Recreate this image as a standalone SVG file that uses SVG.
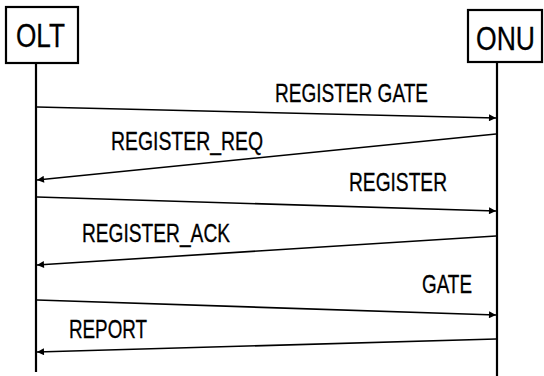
<svg xmlns="http://www.w3.org/2000/svg" width="544" height="376" viewBox="0 0 544 376">
<style>
.box{fill:#fff;stroke:#000;stroke-width:2.2}
.life{stroke:#000;stroke-width:2.2;fill:none}
.msg{stroke:#000;stroke-width:1.6;fill:none}
.lbl{font-family:"Liberation Sans",Arial,sans-serif;font-size:25px;fill:#000;stroke:#000;stroke-width:0.3}
.nm{font-family:"Liberation Sans",Arial,sans-serif;font-size:33px;fill:#000;stroke:#000;stroke-width:0.3}
</style>
<defs>
<marker id="ah" viewBox="0 0 10 10" refX="10" refY="5" markerWidth="9" markerHeight="7" markerUnits="userSpaceOnUse" orient="auto">
<path d="M0,0 L10,5 L0,10 Z" fill="#000"/>
</marker>
</defs>
<g id="olt">
<rect class="box" x="6" y="7" width="72" height="56"/>
<text class="nm" x="16" y="47" textLength="49" lengthAdjust="spacingAndGlyphs">OLT</text>
<line class="life" x1="36" y1="63" x2="36" y2="372"/>
</g>
<g id="onu">
<rect class="box" x="468" y="10" width="74" height="52"/>
<text class="nm" x="476" y="50" textLength="59" lengthAdjust="spacingAndGlyphs">ONU</text>
<line class="life" x1="497" y1="62" x2="497" y2="376"/>
</g>
<g id="connectors">
<line class="msg" x1="37" y1="107" x2="496" y2="118" marker-end="url(#ah)"/>
<line class="msg" x1="496" y1="134" x2="37" y2="180" marker-end="url(#ah)"/>
<line class="msg" x1="37" y1="197" x2="496" y2="211" marker-end="url(#ah)"/>
<line class="msg" x1="496" y1="236" x2="37" y2="265" marker-end="url(#ah)"/>
<line class="msg" x1="37" y1="300" x2="496" y2="315" marker-end="url(#ah)"/>
<line class="msg" x1="496" y1="339" x2="37" y2="352" marker-end="url(#ah)"/>
</g>
<g id="labels">
<text class="lbl" x="275" y="102" textLength="153" lengthAdjust="spacingAndGlyphs">REGISTER GATE</text>
<text class="lbl" x="111" y="150" textLength="152" lengthAdjust="spacingAndGlyphs">REGISTER_REQ</text>
<text class="lbl" x="349" y="191" textLength="98" lengthAdjust="spacingAndGlyphs">REGISTER</text>
<text class="lbl" x="82" y="242" textLength="148" lengthAdjust="spacingAndGlyphs">REGISTER_ACK</text>
<text class="lbl" x="422" y="293" textLength="50" lengthAdjust="spacingAndGlyphs">GATE</text>
<text class="lbl" x="69" y="338" textLength="78" lengthAdjust="spacingAndGlyphs">REPORT</text>
</g>
</svg>
